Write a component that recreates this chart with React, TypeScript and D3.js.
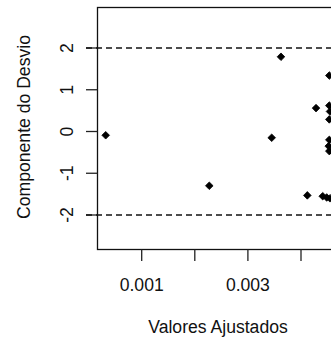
import React, { useEffect, useRef } from "react";
import * as d3 from "d3";

// fitted values and deviance components
const fitted = [
  0.000322, 0.002273, 0.003448, 0.003623, 0.004283, 0.004119, 0.004409,
  0.004484, 0.004546, 0.004533, 0.004533, 0.004546, 0.004533, 0.004533,
  0.004522, 0.004533,
];
const devComp = [
  -0.09, -1.3, -0.15, 1.79, 0.56, -1.53, -1.55, -1.58, -1.6, 1.34, 0.62, 0.48,
  0.29, -0.2, -0.35, -0.47,
];
const xTicks = [0.001, 0.002, 0.003, 0.004];
const xTickLabels = ["0.001", "", "0.003", ""];
const yTicks = [-2, -1, 0, 1, 2];
const refLines = [-2, 2];

const W = 331;
const H = 344;
const font = "'Liberation Sans', Arial, sans-serif";

export default function App() {
  const svgRef = useRef<SVGSVGElement>(null);

  useEffect(() => {
    const svg = d3.select(svgRef.current);
    svg.selectAll("*").remove();

    const left = 97.5;
    const right = 420;
    const top = 7.5;
    const bottom = 249.5;

    const x = d3
      .scaleLinear()
      .domain([0.001, 0.004])
      .range([141.7, 301]);
    const y = d3.scaleLinear().domain([-2, 2]).range([215, 48]);

    // plot box
    svg
      .append("rect")
      .attr("x", left)
      .attr("y", top)
      .attr("width", right - left)
      .attr("height", bottom - top)
      .attr("fill", "none")
      .attr("stroke", "#111")
      .attr("stroke-width", 1.3);

    // x axis ticks
    const xg = svg.append("g");
    xg.selectAll("line")
      .data(xTicks)
      .enter()
      .append("line")
      .attr("x1", (d) => x(d))
      .attr("x2", (d) => x(d))
      .attr("y1", bottom)
      .attr("y2", bottom + 11.5)
      .attr("stroke", "#222")
      .attr("stroke-width", 1.3);
    xg.selectAll("text")
      .data(xTicks)
      .enter()
      .append("text")
      .attr("x", (d) => x(d))
      .attr("y", 290.5)
      .attr("text-anchor", "middle")
      .attr("font-family", font)
      .attr("font-size", 17.6)
      .attr("fill", "#111")
      .text((d, i) => xTickLabels[i]);

    // y axis ticks
    const yg = svg.append("g");
    yg.selectAll("line")
      .data(yTicks)
      .enter()
      .append("line")
      .attr("x1", left - 11.5)
      .attr("x2", left)
      .attr("y1", (d) => y(d))
      .attr("y2", (d) => y(d))
      .attr("stroke", "#222")
      .attr("stroke-width", 1.3);
    yg.selectAll("text")
      .data(yTicks)
      .enter()
      .append("text")
      .attr("transform", (d) => `translate(72.7,${y(d)}) rotate(-90)`)
      .attr("text-anchor", "middle")
      .attr("font-family", font)
      .attr("font-size", 17.6)
      .attr("fill", "#111")
      .text((d) => String(d));

    // reference lines at +-2
    svg
      .selectAll("line.ref")
      .data(refLines)
      .enter()
      .append("line")
      .attr("class", "ref")
      .attr("x1", 86)
      .attr("x2", W + 10)
      .attr("y1", (d) => y(d))
      .attr("y2", (d) => y(d))
      .attr("stroke", "#111")
      .attr("stroke-width", 1.3)
      .attr("stroke-dasharray", "6,4");

    // points (filled diamonds)
    const r = 3.8;
    svg
      .selectAll("path.pt")
      .data(fitted.map((f, i) => [f, devComp[i]]))
      .enter()
      .append("path")
      .attr("class", "pt")
      .attr("d", (d) => {
        const cx = x(d[0]);
        const cy = y(d[1]);
        return `M${cx},${cy - r}L${cx + r},${cy}L${cx},${cy + r}L${cx - r},${cy}Z`;
      })
      .attr("fill", "#000")
      .attr("stroke", "#000")
      .attr("stroke-width", 0.8)
      .attr("stroke-linejoin", "round");

    // axis titles
    svg
      .append("text")
      .attr("x", 218)
      .attr("y", 333)
      .attr("text-anchor", "middle")
      .attr("font-family", font)
      .attr("font-size", 17.6)
      .attr("fill", "#111")
      .text("Valores Ajustados");
    svg
      .append("text")
      .attr("transform", `translate(29.5,127) rotate(-90)`)
      .attr("text-anchor", "middle")
      .attr("font-family", font)
      .attr("font-size", 17.6)
      .attr("fill", "#111")
      .text("Componente do Desvio");
  }, []);

  return (
    <svg
      ref={svgRef}
      width={W}
      height={H}
      style={{ position: "absolute", left: 0, top: 0, background: "#fff" }}
    />
  );
}
